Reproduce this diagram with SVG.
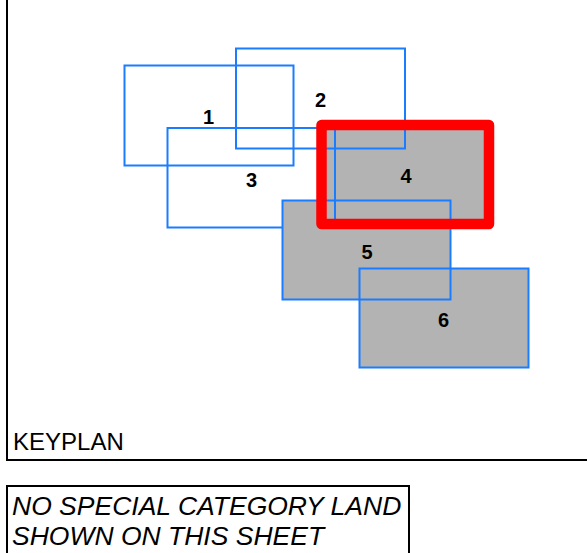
<svg xmlns="http://www.w3.org/2000/svg" width="587" height="553" viewBox="0 0 587 553">
<style>
.frame{fill:none;stroke:#000;stroke-width:2}
.fillg{fill:#b3b3b3;stroke:none}
.blue{fill:none;stroke:#1a7cff;stroke-width:2}
.red{fill:none;stroke:#ff0000;stroke-width:10.5;stroke-linejoin:round}
.lbl{font-family:"Liberation Sans",Arial,sans-serif;font-weight:bold;font-size:20px;fill:#000;text-anchor:middle}
.txt{font-family:"Liberation Sans",Arial,sans-serif;font-size:24px;fill:#000}
.itl{font-family:"Liberation Sans",Arial,sans-serif;font-size:26.5px;font-style:italic;fill:#000}
</style>
<rect width="587" height="553" fill="#fff"/>
<g id="keyplan-frame">
<rect class="frame" x="7" y="-10" width="600" height="470"/>
<text class="txt" x="13" y="450">KEYPLAN</text>
</g>
<g id="fills">
<rect class="fillg" x="282.5" y="200.5" width="168" height="99"/>
<rect class="fillg" x="359.5" y="268.5" width="169" height="99"/>
<rect class="fillg" x="321" y="125" width="168" height="99"/>
</g>
<g id="sheet1"><rect class="blue" x="124.5" y="65.5" width="169" height="100"/></g>
<g id="sheet2"><rect class="blue" x="236" y="48.5" width="169" height="100"/></g>
<g id="sheet3"><path class="blue" d="M282.5 227.5 H167.5 V128 H335 V227.5"/></g>
<g id="sheet5"><rect class="blue" x="282.5" y="200.5" width="168" height="99"/></g>
<g id="sheet6"><rect class="blue" x="359.5" y="268.5" width="169" height="99"/></g>
<g id="sheet4"><rect class="red" x="321.5" y="125" width="167.5" height="99"/></g>
<g id="labels">
<text class="lbl" x="208.5" y="124">1</text>
<text class="lbl" x="320.5" y="107">2</text>
<text class="lbl" x="251.5" y="187">3</text>
<text class="lbl" x="406" y="183">4</text>
<text class="lbl" x="367" y="259">5</text>
<text class="lbl" x="443.5" y="327">6</text>
</g>
<g id="note">
<rect class="frame" x="7" y="486" width="402" height="80"/>
<text class="itl" x="12" y="515">NO SPECIAL CATEGORY LAND</text>
<text class="itl" x="12" y="545">SHOWN ON THIS SHEET</text>
</g>
</svg>
